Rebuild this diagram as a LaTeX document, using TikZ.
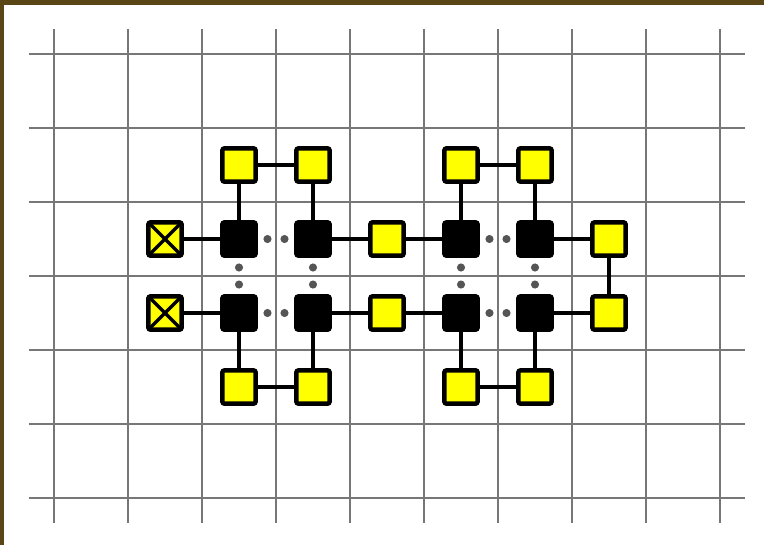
\documentclass[tikz,border=0pt]{standalone}
\usetikzlibrary{calc}
\definecolor{framebrown}{HTML}{5A4516}
\definecolor{gridgray}{HTML}{777777}
\definecolor{dotgray}{HTML}{555555}
\definecolor{qyellow}{HTML}{FFFF00}
\tikzset{
  qubit/.style={draw=black, line width=1.7pt, fill=qyellow, minimum size=0.45cm,
    inner sep=0pt, rounded corners=0.8pt},
  anc/.style={qubit, fill=black},
  xqubit/.style={qubit, path picture={
    \draw[line width=1.3pt] (path picture bounding box.south west) -- (path picture bounding box.north east)
      (path picture bounding box.north west) -- (path picture bounding box.south east);}},
  wire/.style={line width=1.7pt},
  gridline/.style={gridgray, line width=0.8pt}
}
\begin{document}
\begin{tikzpicture}
    \useasboundingbox (-0.7297,0.7297) rectangle (9.5946,-6.6351);
    % Frame
    \fill[framebrown] (-0.7297,0.7297) rectangle (9.5946,0.6622);
    \fill[framebrown] (-0.7297,0.7297) rectangle (-0.6757,-6.6351);
    % Grid
    \foreach \x in {0,...,9} \draw[gridline] (\x,0.338) -- (\x,-6.338);
    \foreach \y in {0,...,6} \draw[gridline] (-0.338,-\y) -- (9.338,-\y);
    % Qubits
    \node[qubit] (t1) at (2.5,-1.5) {};
    \node[qubit] (t2) at (3.5,-1.5) {};
    \node[qubit] (t3) at (5.5,-1.5) {};
    \node[qubit] (t4) at (6.5,-1.5) {};
    \node[xqubit] (x1) at (1.5,-2.5) {};
    \node[xqubit] (x2) at (1.5,-3.5) {};
    \node[anc] (a1) at (2.5,-2.5) {};
    \node[anc] (a2) at (3.5,-2.5) {};
    \node[anc] (a3) at (5.5,-2.5) {};
    \node[anc] (a4) at (6.5,-2.5) {};
    \node[anc] (a5) at (2.5,-3.5) {};
    \node[anc] (a6) at (3.5,-3.5) {};
    \node[anc] (a7) at (5.5,-3.5) {};
    \node[anc] (a8) at (6.5,-3.5) {};
    \node[qubit] (m1) at (4.5,-2.5) {};
    \node[qubit] (m2) at (4.5,-3.5) {};
    \node[qubit] (r1) at (7.5,-2.5) {};
    \node[qubit] (r2) at (7.5,-3.5) {};
    \node[qubit] (b1) at (2.5,-4.5) {};
    \node[qubit] (b2) at (3.5,-4.5) {};
    \node[qubit] (b3) at (5.5,-4.5) {};
    \node[qubit] (b4) at (6.5,-4.5) {};
    % Wires
    \draw[wire] (t1) -- (t2);
    \draw[wire] (t3) -- (t4);
    \draw[wire] (b1) -- (b2);
    \draw[wire] (b3) -- (b4);
    \foreach \u/\v in {t1/a1,t2/a2,t3/a3,t4/a4,a5/b1,a6/b2,a7/b3,a8/b4,
                       x1/a1,a2/m1,m1/a3,a4/r1,x2/a5,a6/m2,m2/a7,a8/r2,r1/r2}
        \draw[wire] (\u) -- (\v);
    % Gaps
    \foreach \u/\v in {a1/a2,a3/a4,a5/a6,a7/a8,a1/a5,a2/a6,a3/a7,a4/a8} {
        \fill[dotgray] ($(\u)!0.385!(\v)$) circle (0.055);
        \fill[dotgray] ($(\u)!0.615!(\v)$) circle (0.055);
    }
\end{tikzpicture}
\end{document}
